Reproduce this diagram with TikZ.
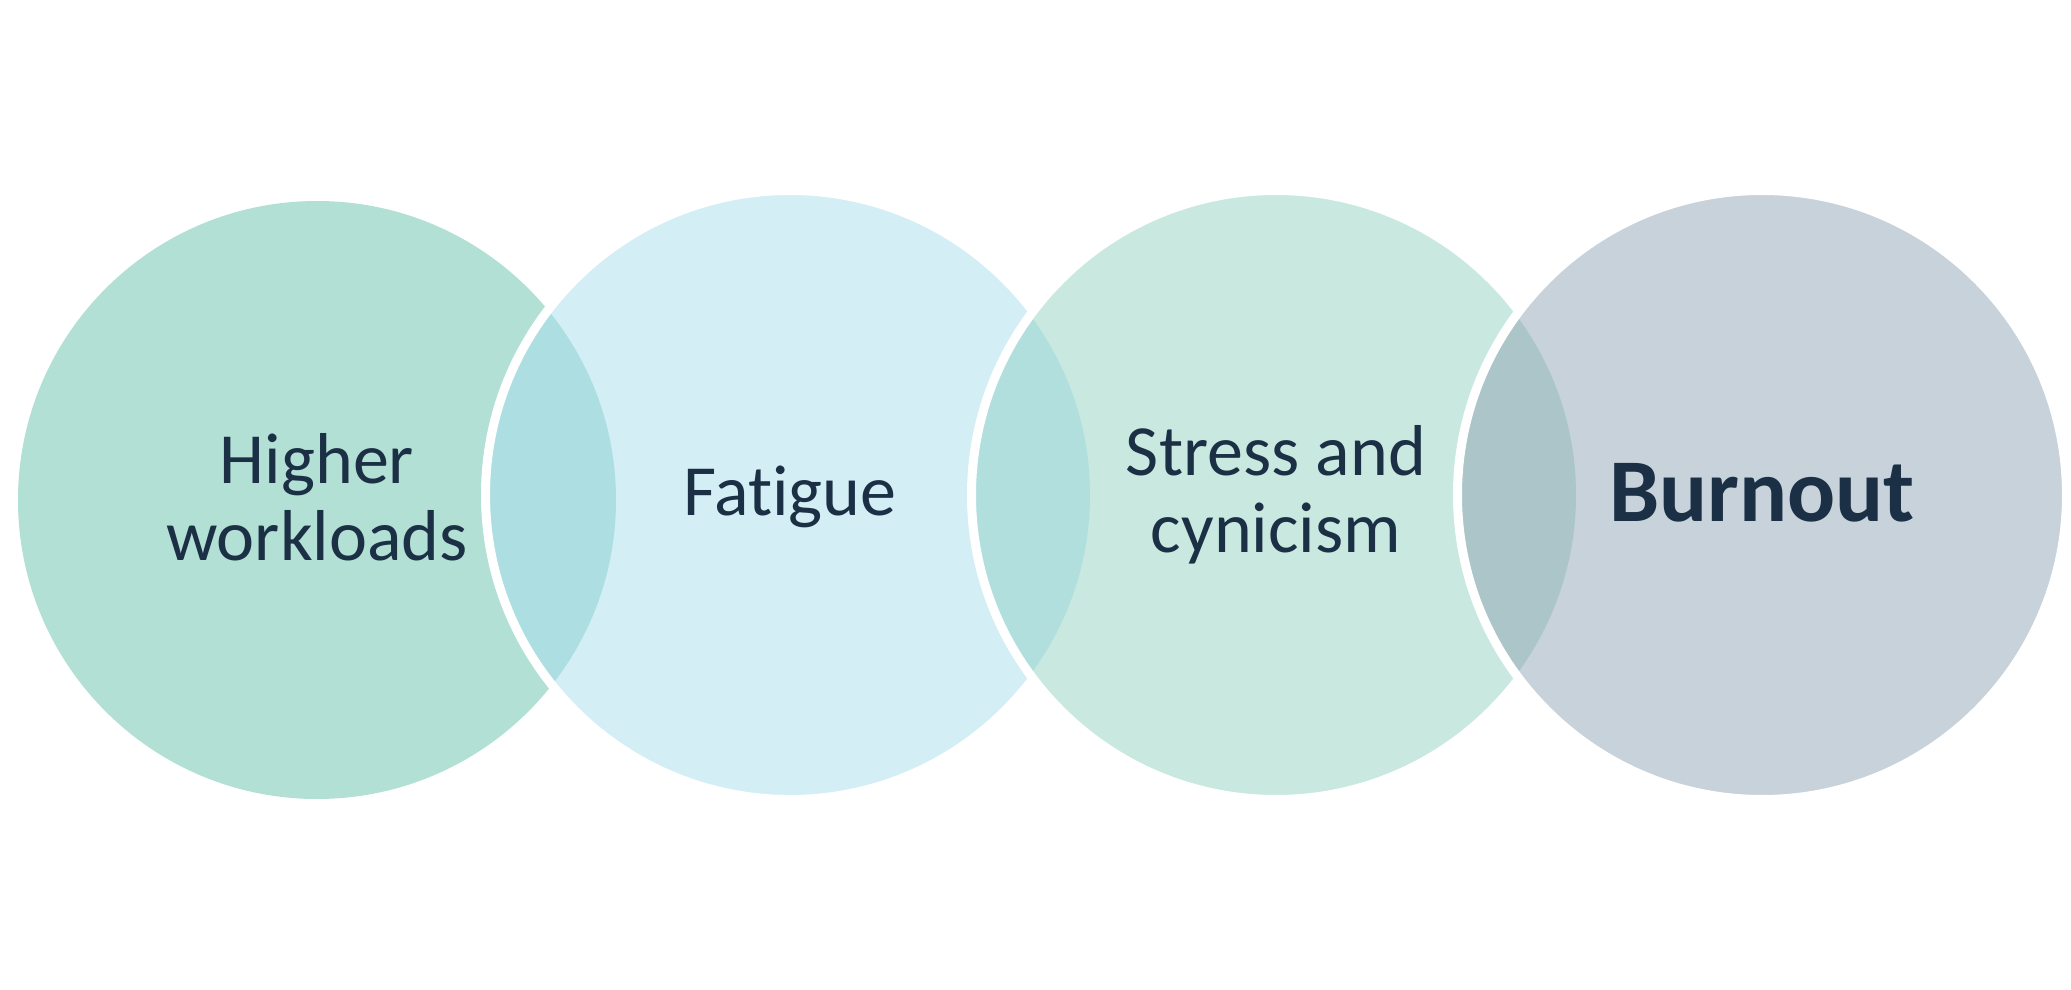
\documentclass[tikz,border=0pt]{standalone}
\usepackage{fontspec}
\setmainfont{Carlito}[Ligatures=NoCommon]
\definecolor{workfill}{HTML}{B2E0D4}
\definecolor{fatiguefill}{HTML}{D3EEF5}
\definecolor{stressfill}{HTML}{C8E8E0}
\definecolor{burnfill}{HTML}{C7D2DB}
\definecolor{lensone}{HTML}{ADDFE2}
\definecolor{lenstwo}{HTML}{B1DFDD}
\definecolor{lensthree}{HTML}{ABC5C9}
\definecolor{inktext}{HTML}{1B3045}
\tikzset{
  rim/.style={draw=white, line width=.09cm},
  circtext/.style={text=inktext, align=center, font=\fontsize{20.5}{22}\selectfont},
}
\begin{document}
\begin{tikzpicture}

\useasboundingbox (0,0) rectangle (20.71,-9.90);

% \draw [red] (0,0) grid (20,-9);
\fill[workfill] (3.17,-5.00) circle (2.99);

\fill[fatiguefill] (7.90,-4.95) circle (3.045);
\begin{scope}
  \clip (3.17,-5.00) circle (2.99);
  \fill[lensone] (7.90,-4.95) circle (3.045);
\end{scope}
\draw[rim] (7.90,-4.95) circle (3.045);

\fill[stressfill] (12.76,-4.95) circle (3.045);
\begin{scope}
  \clip (7.90,-4.95) circle (3);
  \fill[lenstwo] (12.76,-4.95) circle (3.045);
\end{scope}
\draw[rim] (12.76,-4.95) circle (3.045);

\fill[burnfill] (17.62,-4.95) circle (3.045);
\begin{scope}
  \clip (12.76,-4.95) circle (3);
  \fill[lensthree] (17.62,-4.95) circle (3.045);
\end{scope}
\draw[rim] (17.62,-4.95) circle (3.045);

% texts
\node[circtext] (work) at (3.17,-4.97) {Higher\\workloads};
\node[circtext] (fatigue) at (7.90,-4.97) {Fatigue};
\node[circtext] (stress) at (12.76,-4.95) {Stress and\\cynicism};
\node[circtext, font=\fontsize{25.5}{30}\selectfont\bfseries] (burn) at (17.62,-4.93) {Burnout};

\end{tikzpicture}
\end{document}
